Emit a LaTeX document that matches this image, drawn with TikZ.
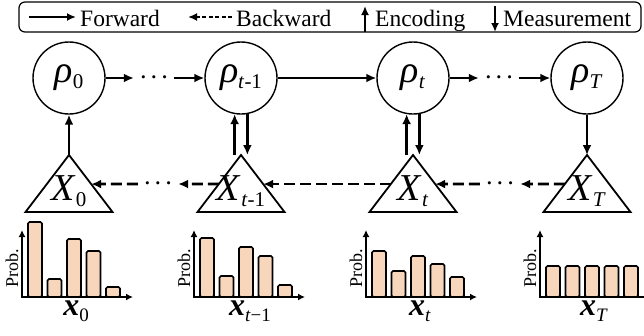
\documentclass[tikz,border=0pt]{standalone}
\usepackage{fontspec}
\setmainfont{Liberation Serif}
\usetikzlibrary{arrows.meta, positioning}
\definecolor{barfill}{RGB}{248,214,188}
\newcommand{\lowsub}[1]{\raisebox{-6pt}{\fontsize{21}{21}\selectfont #1}}
\newcommand{\axsub}[1]{\raisebox{-6pt}{\fontsize{19}{19}\selectfont #1}}

\begin{document}
\begin{tikzpicture}[x=1pt, y=-1pt,
        state/.style={circle, draw, line width=1.4pt, minimum size=72pt, inner sep=0pt, font=\fontsize{38}{38}\selectfont},
        sym/.style={inner sep=0pt, font=\fontsize{38}{38}\selectfont},
        fwd/.style={line width=2.4pt, -{Latex[length=10pt,width=9pt]}},
        bwd/.style={line width=2.8pt, dash pattern=on 11pt off 5pt, -{Latex[length=10pt,width=9pt]}},
        gap/.style={inner sep=0pt, minimum width=40pt, font=\fontsize{22}{22}\selectfont\boldmath},
        axis/.style={line width=1.8pt, {Latex[length=7pt,width=7pt]}-{Latex[length=7pt,width=7pt]}},
        bar/.style={draw, fill=barfill, line width=1.7pt, rounded corners=1.5pt},
        legarrow/.style={line width=2.2pt, -{Latex[length=9pt,width=8pt]}},
        legtext/.style={anchor=base west, inner sep=0pt, font=\fontsize{23.5}{23.5}\selectfont}
    ]
        \useasboundingbox (0,0) rectangle (644,335);

        % Legend
        \node[draw, line width=1.2pt, rounded corners=6pt, minimum width=622pt, minimum height=30pt] (legend) at (330,17) {};
        \draw[legarrow] (29,17) -- (76,17);
        \node[legtext] (lfwd) at (80,26) {Forward};
        \draw[legarrow, dash pattern=on 4pt off 2.5pt] (232,17) -- (188,17);
        \node[legtext] (lbwd) at (236,26) {Backward};
        \draw[legarrow] (365,32) -- (365,6);
        \node[legtext] (lenc) at (375,26) {Encoding};
        \draw[legarrow] (495,6) -- (495,32);
        \node[legtext] (lmeas) at (503,26) {Measurement};

        % States
        \node[state] (r0) at (69,78) {\textit{ρ}\lowsub{0}};
        \node[state] (rt1) at (241,78) {\textit{ρ}\lowsub{\textit{t}-1}};
        \node[state] (rt) at (413,78) {\textit{ρ}\lowsub{\textit{t}}};
        \node[state] (rT) at (587,78) {\textit{ρ}\lowsub{\textit{T}}};
        \node[gap] (d1) at (154,78) {$\cdots$};
        \node[gap] (d2) at (499,78) {$\cdots$};

        % Measurement triangles
        \foreach \cx/\n in {69/0, 241/t1, 413/t, 587/T} {
            \coordinate (X\n-top) at (\cx,155);
            \coordinate (X\n-bl) at (\cx-43.5,212);
            \coordinate (X\n-br) at (\cx+43.5,212);
            \draw[line width=1.8pt, line join=miter] (X\n-top) -- (X\n-bl) -- (X\n-br) -- cycle;
            \path (X\n-top) -- (X\n-bl) coordinate[pos=0.51] (X\n-w);
            \path (X\n-top) -- (X\n-br) coordinate[pos=0.51] (X\n-e);
        }
        \node[sym] (X0) at (69,191) {\textit{X}\lowsub{0}};
        \node[sym] (Xt1) at (241,191) {\textit{X}\lowsub{\textit{t}-1}};
        \node[sym] (Xt) at (413,191) {\textit{X}\lowsub{\textit{t}}};
        \node[sym] (XT) at (587,191) {\textit{X}\lowsub{\textit{T}}};
        \node[gap] (d3) at (158,184) {$\cdots$};
        \node[gap] (d4) at (500,184) {$\cdots$};

        % Forward chain
        \draw[fwd] (r0) -- (d1);
        \draw[fwd] (d1) -- (rt1);
        \draw[fwd] (rt1) -- (rt);
        \draw[fwd] (rt) -- (d2);
        \draw[fwd] (d2) -- (rT);

        % Backward chain
        \draw[bwd] (d3.west) -- (X0-e);
        \draw[bwd] (Xt1-w) -- (d3.east);
        \draw[bwd] (Xt-w) -- (Xt1-e);
        \draw[bwd] (d4.west) -- (Xt-e);
        \draw[bwd] (XT-w) -- (d4.east);

        % Encoding and measurement
        \draw[fwd] (X0-top) -- (r0);
        \draw[fwd] (rt1.260 |- Xt1-top) -- (rt1.260);
        \draw[fwd] (rt1.280) -- (rt1.280 |- Xt1-top);
        \draw[fwd] (rt.260 |- Xt-top) -- (rt.260);
        \draw[fwd] (rt.280) -- (rt.280 |- Xt-top);
        \draw[fwd] (rT) -- (XT-top);

        % Histograms
        \foreach \cx/\hs [count=\k] in {69/{75,18,58,46,10}, 241/{59,21,50,41,12}, 413/{46,26,41,33,20}, 587/{31,31,31,31,31}} {
            \coordinate (O\k) at (\cx-47,297);
            \foreach \h [count=\j] in \hs
                \draw[bar] (\cx-60.5+19.5*\j,297) rectangle ++(14,-\h);
            \draw[axis] (\cx-47,230) -- (O\k) -- (\cx+64,297);
            \node[rotate=90, font=\fontsize{18}{18}\selectfont] (P\k) at (\cx-57,268) {Prob.};
        }
        \node[font=\fontsize{32}{32}\selectfont] (x0) at (76,311) {\textbf{\textit{x}}\axsub{0}};
        \node[font=\fontsize{32}{32}\selectfont] (xt1) at (250,311) {\textbf{\textit{x}}\axsub{\textit{t}−1}};
        \node[font=\fontsize{32}{32}\selectfont] (xt) at (420,311) {\textbf{\textit{x}}\axsub{\textit{t}}};
        \node[font=\fontsize{32}{32}\selectfont] (xT) at (594,311) {\textbf{\textit{x}}\axsub{\textit{T}}};
    \end{tikzpicture}
\end{document}
